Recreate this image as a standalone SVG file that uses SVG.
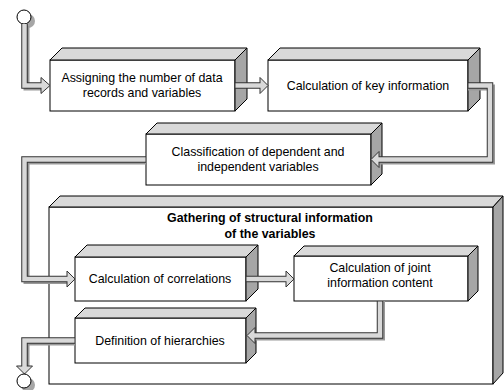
<svg xmlns="http://www.w3.org/2000/svg" width="504" height="390" viewBox="0 0 504 390">
<style>
.front{fill:#fff;stroke:#000;stroke-width:1}
.top{fill:#d9d9d9;stroke:#000;stroke-width:1;stroke-linejoin:round}
.side{fill:#a6a6a6;stroke:#000;stroke-width:1;stroke-linejoin:round}
.t{font-family:"Liberation Sans",Arial,sans-serif;font-size:12.4px;fill:#000;text-anchor:middle}
.b{font-weight:bold}
.sh{fill:none;stroke:#999;stroke-width:6;stroke-linejoin:miter}
.out{fill:none;stroke:#333;stroke-width:6.5;stroke-linejoin:miter}
.in{fill:none;stroke:#d9d9d9;stroke-width:4.5;stroke-linejoin:miter}
.head{fill:#d9d9d9;stroke:#333;stroke-width:1;stroke-linejoin:miter}
.circ{fill:#fff;stroke:#000;stroke-width:1}
.csh{fill:#a6a6a6}
</style>
<g id="container">
<rect class="front" x="49" y="207" width="444" height="177"/>
<polygon class="top" points="49,207 60,196 503,196 493,207"/>
<polygon class="side" points="493,207 503,196 503,373 493,384"/>
<text class="t b" x="270" y="222">Gathering of structural information</text>
<text class="t b" x="270" y="238">of the variables</text>
</g>
<g id="box1">
<rect class="front" x="50" y="60" width="185" height="51"/>
<polygon class="top" points="50,60 62,48 247,48 235,60"/>
<polygon class="side" points="235,60 247,48 247,99 235,111"/>
<text class="t" x="142" y="82">Assigning the number of data</text>
<text class="t" x="142" y="97">records and variables</text>
</g>
<g id="box2">
<rect class="front" x="268" y="60" width="200" height="51"/>
<polygon class="top" points="268,60 280,48 480,48 468,60"/>
<polygon class="side" points="468,60 480,48 480,99 468,111"/>
<text class="t" x="368" y="90">Calculation of key information</text>
</g>
<g id="box3">
<rect class="front" x="146" y="134" width="225" height="51"/>
<polygon class="top" points="146,134 157,123 382,123 371,134"/>
<polygon class="side" points="371,134 382,123 382,174 371,185"/>
<text class="t" x="258" y="156">Classification of dependent and</text>
<text class="t" x="258" y="171">independent variables</text>
</g>
<g id="box4">
<rect class="front" x="75" y="257" width="171" height="44"/>
<polygon class="top" points="75,257 87,245 258,245 246,257"/>
<polygon class="side" points="246,257 258,245 258,289 246,301"/>
<text class="t" x="160" y="283">Calculation of correlations</text>
</g>
<g id="box5">
<rect class="front" x="294" y="256" width="174" height="45"/>
<polygon class="top" points="294,256 304,246 478,246 468,256"/>
<polygon class="side" points="468,256 478,246 478,291 468,301"/>
<text class="t" x="380" y="272">Calculation of joint</text>
<text class="t" x="380" y="287">information content</text>
</g>
<g id="box6">
<rect class="front" x="75" y="318" width="171" height="45"/>
<polygon class="top" points="75,318 85,308 256,308 246,318"/>
<polygon class="side" points="246,318 256,308 256,353 246,363"/>
<text class="t" x="160" y="345">Definition of hierarchies</text>
</g>
<g id="connectors">
<circle class="csh" cx="28" cy="21" r="7"/>
<circle class="circ" cx="24" cy="17" r="7"/>
<polyline class="sh" points="26.5,26 26.5,87.5 42,87.5"/>
<polyline class="out" points="24.5,24 24.5,85.5 42,85.5"/>
<polygon class="head" points="41,77.5 50,85.5 41,93.5"/>
<polyline class="in" points="24.5,24 24.5,85.5 42,85.5"/>
<polyline class="out" points="235,85.5 261,85.5"/>
<polygon class="head" points="260,77.5 268,85.5 260,93.5"/>
<polyline class="in" points="235.5,85.5 261,85.5"/>
<polyline class="sh" points="468,87.5 492,87.5 492,161.5 379,161.5"/>
<polyline class="out" points="468,85.5 490,85.5 490,159.5 378,159.5"/>
<polygon class="head" points="379,151.5 371,159.5 379,167.5"/>
<polyline class="in" points="468.5,85.5 490,85.5 490,159.5 378,159.5"/>
<polyline class="sh" points="146,161.5 26.5,161.5 26.5,281 67,281"/>
<polyline class="out" points="146,159.5 24.5,159.5 24.5,279 68,279"/>
<polygon class="head" points="67,271 75,279 67,287"/>
<polyline class="in" points="145.5,159.5 24.5,159.5 24.5,279 68,279"/>
<polyline class="out" points="246,279 287,279"/>
<polygon class="head" points="286,271 294,279 286,287"/>
<polyline class="in" points="246.5,279 287,279"/>
<polyline class="sh" points="382,301 382,337.5 255,337.5"/>
<polyline class="out" points="380,301 380,335.5 254,335.5"/>
<polygon class="head" points="255,327.5 247,335.5 255,343.5"/>
<polyline class="in" points="380,301.5 380,335.5 254,335.5"/>
<polyline class="sh" points="75,342.5 26.5,342.5 26.5,366"/>
<polyline class="out" points="75,340.5 24.5,340.5 24.5,367"/>
<polygon class="head" points="16.5,366 24.5,374 32.5,366"/>
<polyline class="in" points="74.5,340.5 24.5,340.5 24.5,367"/>
<circle class="csh" cx="28" cy="385" r="7"/>
<circle class="circ" cx="24" cy="381" r="7"/>
</g>
</svg>
